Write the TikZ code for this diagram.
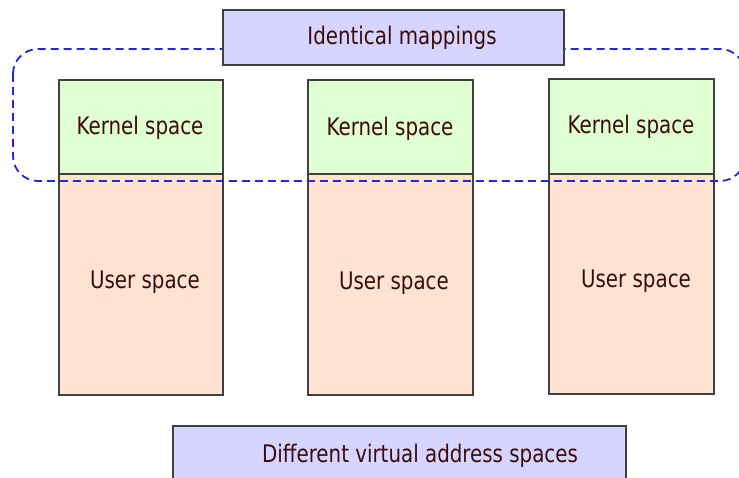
\documentclass[tikz,border=0pt]{standalone}
\usepackage{fontspec}
\setmainfont{DejaVu Sans}[FakeStretch=0.82]
\definecolor{kfill}{HTML}{E0FFD2}
\definecolor{ufill}{HTML}{FFE4D4}
\definecolor{lfill}{HTML}{D5D5FF}
\definecolor{bord}{HTML}{404040}
\definecolor{txt}{HTML}{3C0A0A}
\definecolor{dblue}{HTML}{2626E0}
\tikzset{
  box/.style={draw=bord, line width=1.3pt, inner sep=0pt},
  lbl/.style={text=txt, inner sep=0pt, anchor=base, font=\fontsize{24.2}{29}\selectfont},
  mapline/.style={draw=dblue, line width=1.8pt, dash pattern=on 8pt off 5pt, rounded corners=25pt}
}
\begin{document}
\begin{tikzpicture}[x=1pt,y=-1pt]
\useasboundingbox (0,0) rectangle (739,478);
% columns
\foreach \n/\l/\r/\t/\b in {1/59/223/80/395, 2/308/473/80/395, 3/549/714/79/394}{
  \path[box, fill=ufill] (\l,174) rectangle (\r,\b);
  \path[box, fill=kfill] (\l,\t) rectangle (\r,174);
}
\node[lbl] (kt1) at (140,135) {Kernel space};
\node[lbl] (kt2) at (390,136) {Kernel space};
\node[lbl] (kt3) at (631,134) {Kernel space};
\node[lbl] (ut1) at (145,289) {User space};
\node[lbl] (ut2) at (394,290) {User space};
\node[lbl] (ut3) at (636,288) {User space};
% identical mapping region
\begin{scope}
\clip (0,0) rectangle (739,478);
\draw[mapline] (13,49) rectangle (745,181);
\end{scope}
% labels
\path[box, fill=lfill] (223,10) rectangle (564,65);
\node[lbl] (top) at (402,45) {Identical mappings};
\path[box, fill=lfill] (173,426) rectangle (626,490);
\node[lbl] (bot) at (420,462) {Different virtual address spaces};
\end{tikzpicture}
\end{document}
